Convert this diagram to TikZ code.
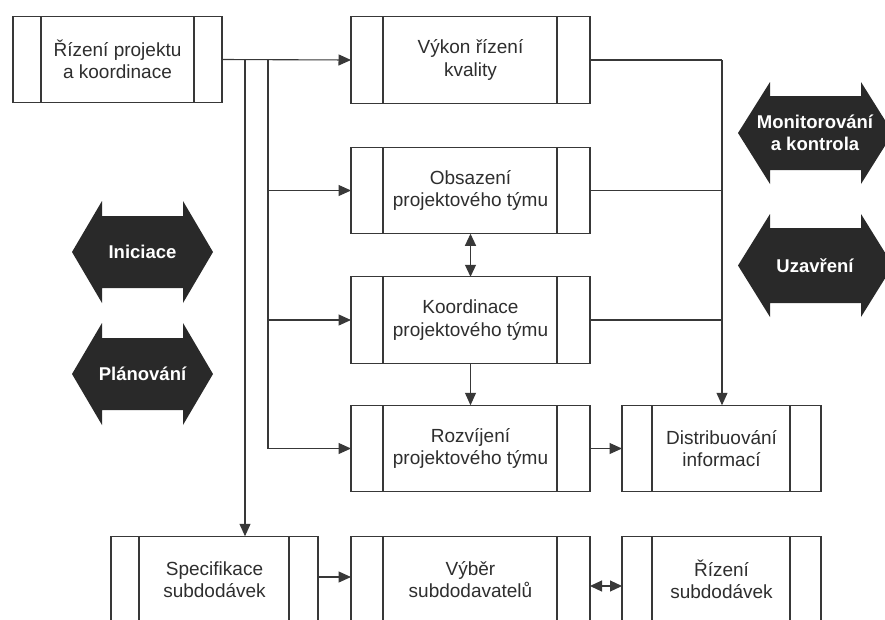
\documentclass[tikz,border=0pt]{standalone}
\usepackage{fontspec}
\setmainfont{Liberation Sans}
\usetikzlibrary{arrows.meta}
\newcommand\boxfont{\fontsize{19}{22.5}\selectfont}
\newcommand\phasefont{\fontsize{18.5}{22.5}\selectfont\bfseries}
\begin{document}
\begin{tikzpicture}[x=1pt,y=-1pt,
  conn/.style={draw=black!78, line width=1.1pt},
  arr/.style={conn, -{Triangle[length=12.5pt,width=11pt]}},
  arrtwo/.style={conn, {Triangle[length=12pt,width=11pt]}-{Triangle[length=12pt,width=11pt]}},
  box/.style n args={3}{draw=black!78, line width=1.1pt, minimum width=#1pt, minimum height=86.5pt,
    inner sep=0pt, outer sep=0pt, align=center, font=\boxfont, text=black!82, fill=white,
    path picture={
      \draw[black!78, line width=1.1pt] ([xshift=#2pt]path picture bounding box.north west) -- ([xshift=#2pt]path picture bounding box.south west);
      \draw[black!78, line width=1.1pt] ([xshift=-#3pt]path picture bounding box.north east) -- ([xshift=-#3pt]path picture bounding box.south east);}},
  phase/.style={fill=black!84, draw=none},
  phasetext/.style={text=white, font=\phasefont, align=center, inner sep=0pt}
]
\fill[white] (0,0) rectangle (885,619);
\useasboundingbox (0,0) rectangle (885,619);
\clip (0,0) rectangle (885,619);

% process boxes
\node[box={209}{28}{28}] (rp) at (117.5,59.5) {Řízení projektu\\a koordinace};
\node[box={239}{32}{33}] (vykon) at (470.5,60) {Výkon řízení\\kvality};
\node[box={239}{32}{33}] (obs) at (470.5,190.5) {Obsazení\\projektového týmu};
\node[box={239}{32}{33}] (koord) at (470.5,320) {Koordinace\\projektového týmu};
\node[box={239}{32}{33}] (rozv) at (470.5,448.5) {Rozvíjení\\projektového týmu};
\node[box={199}{30}{31}] (distr) at (721.5,448.5) {Distribuování\\informací};
\node[box={207}{28}{29}] (spec) at (214.5,579.5) {Specifikace\\subdodávek};
\node[box={239}{32}{33}] (vyber) at (470.5,579.5) {Výběr\\subdodavatelů};
\node[box={199}{30}{31}] (rsub) at (721.5,579.5) {Řízení\\subdodávek};

% phase arrows
\fill[phase] (72,252) -- (102,201) -- (102,216) -- (183,216) -- (183,201) -- (213,252)
  -- (183,303) -- (183,288) -- (102,288) -- (102,303) -- cycle;
\node[phasetext] (ini) at (142.5,252) {Iniciace};
\fill[phase] (72,374) -- (102,323) -- (102,338) -- (183,338) -- (183,323) -- (213,374)
  -- (183,425) -- (183,410) -- (102,410) -- (102,425) -- cycle;
\node[phasetext] (plan) at (142.5,374) {Plánování};
\fill[phase] (738,133) -- (770,82) -- (770,96) -- (861,96) -- (861,82) -- (893,133)
  -- (861,184) -- (861,170) -- (770,170) -- (770,184) -- cycle;
\node[phasetext] (mon) at (815,133) {Monitorování\\a kontrola};
\fill[phase] (738,265.5) -- (770,214) -- (770,228) -- (861,228) -- (861,214) -- (893,265.5)
  -- (861,317) -- (861,303) -- (770,303) -- (770,317) -- cycle;
\node[phasetext] (uza) at (815,266) {Uzavření};

% junction points
\coordinate (ja) at (245,60);
\coordinate (jb) at (268,60);
\coordinate (jr) at (722,60);

% connectors from the first box
\draw[arr] (rp.east) -- (vykon.west);
\draw[arr] (ja) -- (ja |- spec.north);
\draw[conn] (jb) -- (jb |- rozv.west);
\draw[arr] (jb |- obs.west) -- (obs.west);
\draw[arr] (jb |- koord.west) -- (koord.west);
\draw[arr] (jb |- rozv.west) -- (rozv.west);

% right collector
\draw[conn] (vykon.east) -- (jr);
\draw[arr] (jr) -- (jr |- distr.north);
\draw[conn] (obs.east) -- (obs.east -| jr);
\draw[conn] (koord.east) -- (koord.east -| jr);

% middle column
\draw[arrtwo] (obs.south) -- (koord.north);
\draw[arr] (koord.south) -- (rozv.north);
\draw[arr] (rozv.east) -- (distr.west);

% bottom row
\draw[arr] ([yshift=2.5pt]spec.east) -- ([yshift=2.5pt]vyber.west);
\draw[arrtwo] ([yshift=-6.5pt]vyber.east) -- ([yshift=-6.5pt]rsub.west);
\end{tikzpicture}
\end{document}
